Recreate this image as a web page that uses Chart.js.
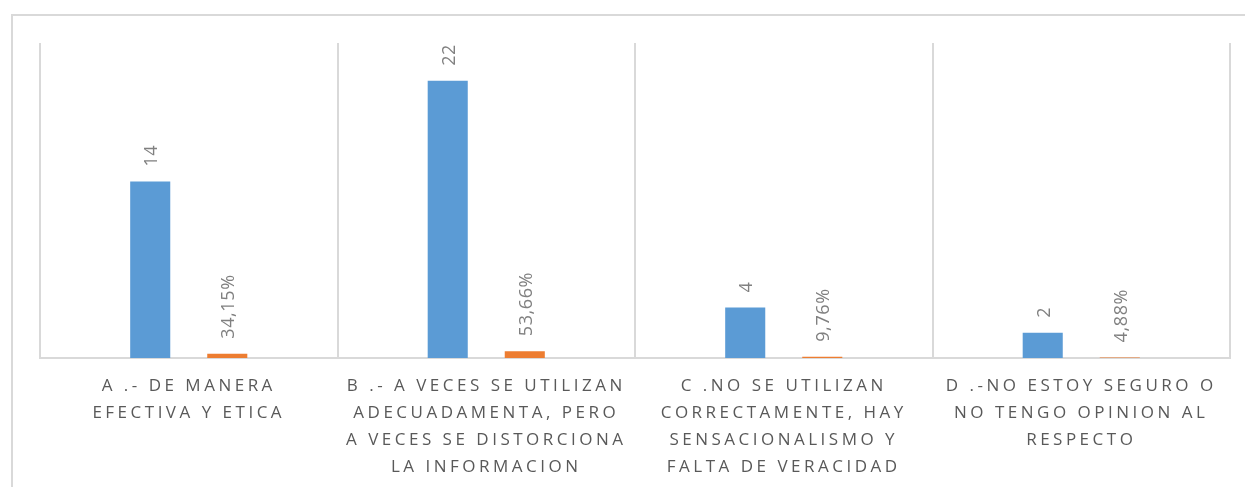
<!DOCTYPE html>
<html>
<head>
<meta charset="utf-8">
<script src="https://cdn.jsdelivr.net/npm/chart.js"></script>
<style>
  html, body { margin: 0; padding: 0; background: #fff; }
  #wrap { position: relative; width: 1245px; height: 487px; }
  #frame { position: absolute; left: 11px; top: 14px; right: -5px; bottom: -5px;
           border-top: 2px solid #d9d9d9; border-left: 2px solid #d9d9d9; }
  canvas { position: absolute; left: 0; top: 0; }
</style>
</head>
<body>
<div id="wrap">
  <div id="frame"></div>
  <canvas id="myChart" width="1245" height="487"></canvas>
</div>
<script>
var categorias = [
  ["A .- DE MANERA", "EFECTIVA Y ETICA"],
  ["B .- A VECES SE UTILIZAN", "ADECUADAMENTA, PERO", "A VECES SE DISTORCIONA", "LA INFORMACION"],
  ["C .NO SE UTILIZAN", "CORRECTAMENTE, HAY", "SENSACIONALISMO Y", "FALTA DE VERACIDAD"],
  ["D .-NO ESTOY SEGURO O", "NO TENGO OPINION AL", "RESPECTO"]
];
var cantidad = [14, 22, 4, 2];
var porcentaje = [0.3415, 0.5366, 0.0976, 0.0488];

function etiqueta(ds, v) {
  if (ds == 1) return (v * 100).toFixed(2).replace(".", ",") + "%";
  return String(v);
}

// spaced letters for the axis, normal letters for the bar labels
var spacing = {
  id: "spacing",
  beforeDraw: function (chart) {
    chart.ctx.letterSpacing = "3.5px";
  },
  afterDatasetsDraw: function (chart) {
    var ctx = chart.ctx;
    ctx.save();
    ctx.letterSpacing = "0.6px";
    ctx.font = "18px 'Open Sans'";
    ctx.fillStyle = "#808080";
    ctx.textAlign = "left";
    ctx.textBaseline = "middle";
    chart.data.datasets.forEach(function (d, i) {
      chart.getDatasetMeta(i).data.forEach(function (bar, j) {
        ctx.save();
        ctx.translate(bar.x + 2, bar.y - 15);
        ctx.rotate(-Math.PI / 2);
        ctx.fillText(etiqueta(i, d.data[j]), 0, 0);
        ctx.restore();
      });
    });
    ctx.restore();
  }
};

new Chart("myChart", {
  type: "bar",
  data: {
    labels: categorias,
    datasets: [
      { label: "Cantidad", data: cantidad, backgroundColor: "#5b9bd5" },
      { label: "Porcentaje", data: porcentaje, backgroundColor: "#ed7d31" }
    ]
  },
  options: {
    responsive: false,
    animation: false,
    devicePixelRatio: 1,
    categoryPercentage: 0.518,
    barPercentage: 0.52,
    layout: { padding: { left: 40, right: 15, top: 43, bottom: 0 } },
    plugins: { legend: { display: false }, tooltip: { enabled: false } },
    scales: {
      x: {
        afterFit: function (s) { s.height = 129; },
        grid: { offset: true, color: "#d9d9d9", lineWidth: 2, drawTicks: false },
        border: { display: true, color: "#d9d9d9", width: 2 },
        ticks: {
          autoSkip: false, maxRotation: 0, minRotation: 0, padding: 15,
          color: "#595959",
          font: { family: "'Open Sans'", size: 17, lineHeight: 1.59 }
        }
      },
      y: { display: false, min: 0, max: 25 }
    }
  },
  plugins: [spacing]
});
</script>
</body>
</html>
